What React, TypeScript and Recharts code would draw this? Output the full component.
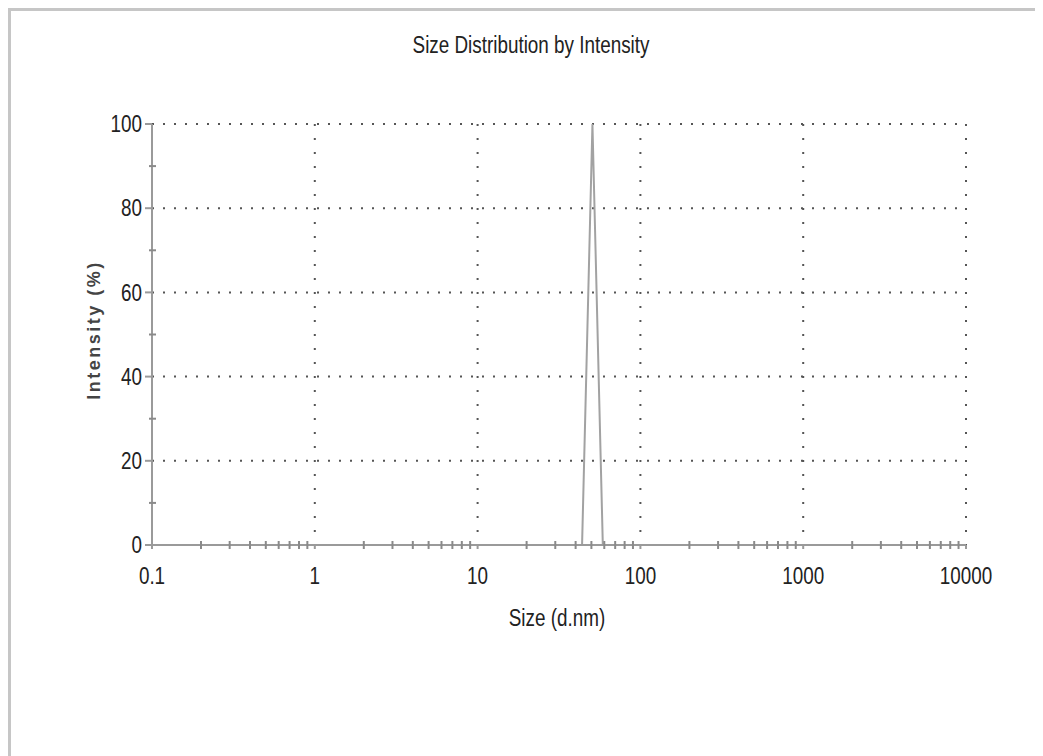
import React from 'react';
import { LineChart, Line, XAxis, YAxis, CartesianGrid, ReferenceDot } from 'recharts';

// DLS size bins (d.nm) and intensity (%)
const sizes = [0.4, 43.82, 50.75, 58.77, 10000];
const intensity = [0, 0, 100, 0, 0];

const xTicks = [0.1, 1, 10, 100, 1000, 10000];
const xTickLabels = ['0.1', '1', '10', '100', '1000', '10000'];
const yTicks = [0, 20, 40, 60, 80, 100];
const yMinorTicks = [10, 30, 50, 70, 90];
const decades = [0.1, 1, 10, 100, 1000];
const xMinorTicks = decades.flatMap(d => [2, 3, 4, 5, 6, 7, 8, 9].map(k => +(d * k).toPrecision(3)));

const data = sizes.map((s, i) => ({ size: s, intensity: intensity[i] }));

const sans = "'Liberation Sans', Arial, sans-serif";
const squeeze = 0.82; // emulate the narrow face of the original
const axisColor = '#9a9a9a';
const textColor = '#222';

const XLabel = (props: any) => {
  const { x, y, payload } = props;
  const label = xTickLabels[xTicks.indexOf(payload.value)] ?? String(payload.value);
  return (
    <text
      transform={`translate(${x},${y}) scale(${squeeze},1)`}
      textAnchor="middle"
      dy="0.71em"
      fontFamily={sans}
      fontSize={23}
      fill={textColor}
    >
      {label}
    </text>
  );
};

const YLabel = (props: any) => {
  const { x, y, payload } = props;
  return (
    <text
      transform={`translate(${x},${y}) scale(${squeeze},1)`}
      textAnchor="end"
      dy="0.355em"
      fontFamily={sans}
      fontSize={23}
      fill={textColor}
    >
      {payload.value}
    </text>
  );
};

const MinorXTick = (props: any) => (
  <line x1={props.x} x2={props.x} y1={props.y - 4} y2={props.y + 4} stroke="#8a8a8a" strokeWidth={2} />
);

const MinorYTick = (props: any) => (
  <line x1={props.cx - 3} x2={props.cx + 4} y1={props.cy} y2={props.cy} stroke="#8a8a8a" strokeWidth={2} />
);

const App: React.FC = () => {
  return (
    <div
      style={{
        position: 'relative',
        width: 1035,
        height: 748,
        boxSizing: 'border-box',
        borderTop: '3px solid #c6c6c6',
        borderLeft: '3px solid #c6c6c6',
        background: '#fff',
      }}
    >
      <div
        style={{
          position: 'absolute',
          left: 0,
          width: 1040,
          top: 21,
          textAlign: 'center',
          fontFamily: sans,
          fontSize: 23,
          color: textColor,
          transform: `scaleX(${squeeze})`,
        }}
      >
        Size Distribution by Intensity
      </div>

      <div style={{ position: 'absolute', left: 0, top: 0 }}>
        <LineChart width={1020} height={700} data={data} margin={{ top: 113, right: 65, left: 0, bottom: 126 }}>
          <CartesianGrid horizontal={false} stroke="#555" strokeWidth={2} strokeDasharray="2 12" />
          <CartesianGrid vertical={false} stroke="#555" strokeWidth={2} strokeDasharray="2 9" />
          <XAxis
            dataKey="size"
            type="number"
            scale="log"
            domain={[0.1, 10000]}
            allowDataOverflow
            ticks={xTicks}
            interval={0}
            height={40}
            stroke={axisColor}
            strokeWidth={2}
            tickSize={4}
            tickMargin={19}
            tick={<XLabel />}
          />
          <XAxis
            xAxisId="minor"
            dataKey="size"
            type="number"
            scale="log"
            domain={[0.1, 10000]}
            allowDataOverflow
            ticks={xMinorTicks}
            interval={0}
            mirror
            axisLine={false}
            tickLine={false}
            tickSize={0}
            tickMargin={0}
            tick={<MinorXTick />}
          />
          <YAxis
            type="number"
            domain={[0, 100]}
            ticks={yTicks}
            interval={0}
            width={141}
            stroke={axisColor}
            strokeWidth={2}
            tickSize={7}
            tickMargin={3}
            tick={<YLabel />}
          />
          {yMinorTicks.map(v => (
            <ReferenceDot key={v} x={0.1} y={v} ifOverflow="visible" shape={(p: any) => <MinorYTick {...p} />} />
          ))}
          <Line
            type="linear"
            dataKey="intensity"
            stroke="#a2a2a2"
            strokeWidth={2}
            dot={false}
            isAnimationActive={false}
          />
        </LineChart>
      </div>

      <div
        style={{
          position: 'absolute',
          left: 446,
          width: 200,
          top: 594,
          textAlign: 'center',
          fontFamily: sans,
          fontSize: 23,
          color: textColor,
          transform: `scaleX(${squeeze})`,
        }}
      >
        Size (d.nm)
      </div>

      <div
        style={{
          position: 'absolute',
          left: 83,
          top: 319,
          transform: 'translate(-50%, -50%) rotate(-90deg)',
          whiteSpace: 'nowrap',
          fontFamily: sans,
          fontWeight: 'bold',
          fontSize: 18,
          letterSpacing: 2.5,
          color: '#444',
        }}
      >
        Intensity (%)
      </div>
    </div>
  );
};

export default App;
